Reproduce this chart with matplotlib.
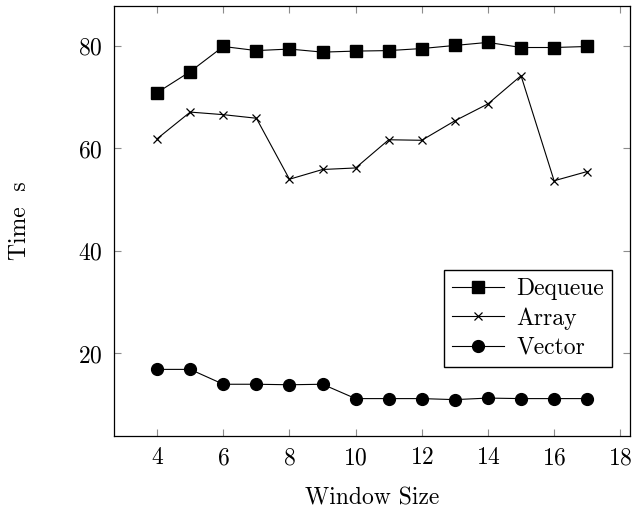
import matplotlib
matplotlib.use("Agg")
import matplotlib.pyplot as plt

plt.rcParams.update({'font.family': 'serif',
                     'font.serif': ['cmr10'],
                     'mathtext.fontset': 'cm',
                     'axes.formatter.use_mathtext': True,
                     'font.size': 17})

window = [4, 5, 6, 7, 8, 9, 10, 11, 12, 13, 14, 15, 16, 17]
deque_t = [70.9, 75.0, 79.9, 79.1, 79.4, 78.8, 79.0, 79.1, 79.5, 80.1, 80.7, 79.7, 79.7, 79.9]
array_t = [61.9, 67.1, 66.6, 65.9, 54.0, 55.9, 56.2, 61.7, 61.6, 65.4, 68.7, 74.2, 53.7, 55.5]
vector_t = [16.9, 16.9, 14.0, 14.0, 13.9, 14.0, 11.2, 11.2, 11.2, 11.0, 11.3, 11.2, 11.2, 11.2]

fig = plt.figure(figsize=(6.34, 5.08), dpi=100)
ax = fig.add_axes([0.18, 0.1417, 0.814, 0.8465])

ax.plot(window, deque_t, color="black", lw=0.8, marker="s", ms=9, label="Dequeue")
ax.plot(window, array_t, color="black", lw=0.8, marker="x", ms=6, mew=0.9, label="Array")
ax.plot(window, vector_t, color="black", lw=0.8, marker="o", ms=8.5, label="Vector")

ax.set_xlim(2.7, 18.3)
ax.set_ylim(3.9, 87.8)
ax.set_xticks([4, 6, 8, 10, 12, 14, 16, 18])
ax.set_yticks([20, 40, 60, 80])
ax.tick_params(direction="in", length=5, width=0.8, color="0.55",
               top=True, right=True, pad=8)
for s in ax.spines.values():
    s.set_linewidth(0.9)

ax.set_xlabel("Window Size", labelpad=13)
ax.set_ylabel("Time  s", labelpad=34)

ax.legend(loc="lower right", bbox_to_anchor=(0.965, 0.16), fancybox=False,
          edgecolor="black", framealpha=1, numpoints=1, borderaxespad=0,
          handlelength=2.2, handletextpad=0.5, labelspacing=0.3, borderpad=0.35)

plt.savefig("out.png", dpi=100)
